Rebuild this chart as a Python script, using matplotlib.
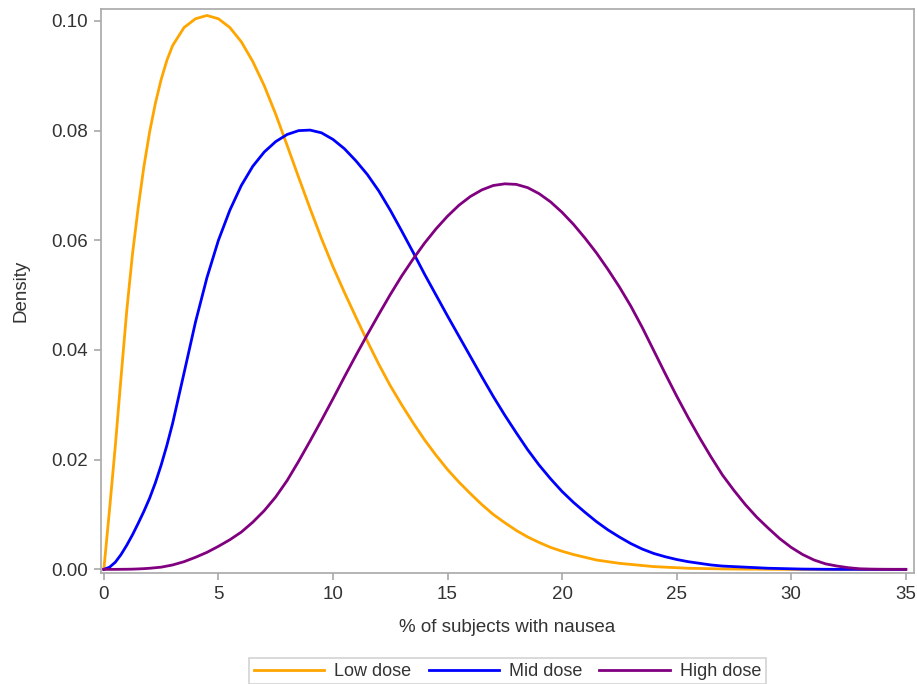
import matplotlib
matplotlib.use("Agg")
import matplotlib.pyplot as plt
from matplotlib.ticker import FormatStrFormatter

# values
pct = [0, 0.25, 0.5, 0.75, 1, 1.25, 1.5, 1.75, 2, 2.25, 2.5, 2.75, 3,
       3.5, 4, 4.5, 5, 5.5, 6, 6.5, 7, 7.5, 8, 8.5, 9, 9.5, 10,
       10.5, 11, 11.5, 12, 12.5, 13, 13.5, 14, 14.5, 15, 15.5, 16,
       16.5, 17, 17.5, 18, 18.5, 19, 19.5, 20, 20.5, 21, 21.5, 22,
       22.5, 23, 23.5, 24, 24.5, 25, 25.5, 26, 26.5, 27, 27.5, 28,
       28.5, 29, 29.5, 30, 30.5, 31, 31.5, 32, 32.5, 33, 33.5, 34,
       34.5, 35]

low_dose = [0, 0.0110, 0.0225, 0.0350, 0.0472, 0.0575, 0.0660, 0.0735,
            0.0798, 0.0850, 0.0893, 0.0928, 0.0955,
            0.0988, 0.1004, 0.1010, 0.1004, 0.0988, 0.0962, 0.0926, 0.0882,
            0.0830, 0.0773, 0.0715, 0.0658, 0.0603, 0.0552, 0.0505, 0.0460,
            0.0416, 0.0374, 0.0335, 0.0300, 0.0267, 0.0236, 0.0208, 0.0182,
            0.0159, 0.0138, 0.0118, 0.0100, 0.0085, 0.0071, 0.0059, 0.0049,
            0.0040, 0.0033, 0.0027, 0.0022, 0.0017, 0.0014, 0.0011, 0.0009,
            0.0007, 0.0005, 0.0004, 0.0003, 0.0002, 0.00016, 0.00012,
            0.00008, 0.00006, 0.00004, 0.00003, 0.00002, 0.00001,
            0, 0, 0, 0, 0, 0, 0, 0, 0, 0, 0]

mid_dose = [0, 0.0004, 0.0013, 0.0027, 0.0044, 0.0063, 0.0084, 0.0106,
            0.0130, 0.0158, 0.0190, 0.0226, 0.0266,
            0.0358, 0.0451, 0.0532, 0.0600, 0.0655, 0.0700, 0.0735, 0.0761,
            0.0780, 0.0793, 0.0800, 0.0801, 0.0796, 0.0784, 0.0767, 0.0745,
            0.0720, 0.0690, 0.0655, 0.0617, 0.0578, 0.0538, 0.0500, 0.0462,
            0.0425, 0.0388, 0.0351, 0.0315, 0.0281, 0.0249, 0.0218, 0.0190,
            0.0165, 0.0142, 0.0122, 0.0104, 0.0087, 0.0072, 0.0059, 0.0047,
            0.0037, 0.0029, 0.0023, 0.0018, 0.0014, 0.0011, 0.0008, 0.0006,
            0.0005, 0.0004, 0.0003, 0.0002, 0.00015, 0.0001, 0.00005,
            0.00003, 0.00001, 0, 0, 0, 0, 0, 0, 0]

high_dose = [0, 0, 0, 0.00001, 0.00002, 0.00004, 0.00008, 0.00013,
             0.0002, 0.0003, 0.0004, 0.0006, 0.0008,
             0.0014, 0.0022, 0.0031, 0.0042, 0.0054, 0.0068, 0.0086, 0.0107,
             0.0132, 0.0162, 0.0197, 0.0234, 0.0272, 0.0311, 0.0351, 0.0390,
             0.0428, 0.0465, 0.0501, 0.0535, 0.0566, 0.0595, 0.0621, 0.0644,
             0.0664, 0.0680, 0.0692, 0.0700, 0.0703, 0.0702, 0.0696, 0.0685,
             0.0670, 0.0651, 0.0629, 0.0604, 0.0577, 0.0547, 0.0515, 0.0480,
             0.0441, 0.0399, 0.0357, 0.0316, 0.0277, 0.0240, 0.0205, 0.0172,
             0.0144, 0.0118, 0.0095, 0.0075, 0.0056, 0.0040, 0.0027, 0.0017,
             0.0010, 0.0006, 0.0003, 0.0001, 0.00004, 0.00001, 0, 0]

x_ticks = [0, 5, 10, 15, 20, 25, 30, 35]
y_ticks = [0.00, 0.02, 0.04, 0.06, 0.08, 0.10]

frame = "#A8A8A8"
text_col = "#333333"
plt.rcParams["font.family"] = ["Liberation Sans", "DejaVu Sans"]

fig = plt.figure(figsize=(9.17, 6.84), dpi=100)
ax = fig.add_axes([0.110, 0.162, 0.887, 0.825])

ax.plot(pct, low_dose, color="#FFA500", lw=2.0, label="Low dose")
ax.plot(pct, mid_dose, color="#0000FF", lw=2.0, label="Mid dose")
ax.plot(pct, high_dose, color="#800080", lw=2.0, label="High dose")

ax.set_xlim(-0.13, 35.37)
ax.set_ylim(-0.0007, 0.1022)
ax.set_xticks(x_ticks)
ax.set_yticks(y_ticks)
ax.yaxis.set_major_formatter(FormatStrFormatter("%.2f"))

for s in ax.spines.values():
    s.set_color(frame)
    s.set_linewidth(1.2)
ax.tick_params(colors=frame, labelcolor=text_col, labelsize=13.5,
               length=5, width=1.2, pad=4.5)

ax.set_xlabel("% of subjects with nausea", fontsize=13.5, color=text_col)
ax.set_ylabel("Density", fontsize=13.5, color=text_col)
ax.xaxis.set_label_coords(0.5, -0.082)
ax.yaxis.set_label_coords(-0.088, 0.5)

leg = fig.legend(loc="upper center", bbox_to_anchor=(0.5535, 0.0375), ncol=3,
                 frameon=True, fancybox=False, fontsize=13,
                 handlelength=3.9, handletextpad=0.55, columnspacing=0.95,
                 borderpad=0.25, borderaxespad=0)
leg.get_frame().set_edgecolor("#C8C8C8")
leg.get_frame().set_linewidth(1.2)
for t in leg.get_texts():
    t.set_color(text_col)

fig.savefig("out.png", dpi=100)
